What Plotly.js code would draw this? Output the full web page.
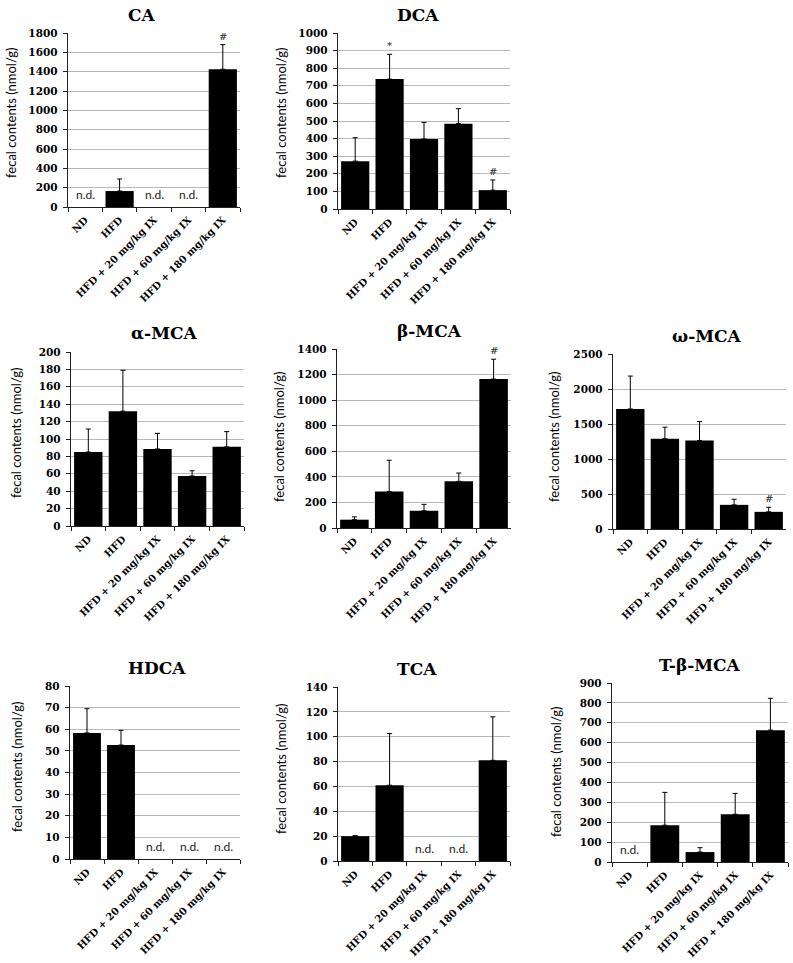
<!DOCTYPE html>
<html><head><meta charset="utf-8">
<script src="https://cdn.plot.ly/plotly-3.0.1.min.js"></script>
<style>html,body{margin:0;padding:0;background:#fff}#chart{width:793px;height:963px}</style>
</head><body><div id="chart"></div><script>
// ---- data ----
const groups = ['ND', 'HFD', 'HFD + 20 mg/kg IX', 'HFD + 60 mg/kg IX', 'HFD + 180 mg/kg IX'];
const compounds = ['CA', 'DCA', 'α-MCA', 'β-MCA', 'ω-MCA', 'HDCA', 'TCA', 'T-β-MCA'];

const caMean   = [null, 165, null, null, 1425];
const caErr    = [null, 125, null, null, 255];
const dcaMean  = [272, 738, 398, 485, 107];
const dcaErr   = [133, 141, 94, 85, 58];
const aMcaMean = [85, 132, 88.5, 57.5, 91];
const aMcaErr  = [26.5, 47, 18, 6, 17.5];
const bMcaMean = [65, 285, 135, 365, 1165];
const bMcaErr  = [22, 245, 50, 65, 155];
const wMcaMean = [1715, 1290, 1265, 345, 245];
const wMcaErr  = [470, 165, 270, 80, 65];
const hdcaMean = [58.3, 52.7, null, null, null];
const hdcaErr  = [11.2, 6.8, null, null, null];
const tcaMean  = [20, 61, null, null, 81];
const tcaErr   = [0.4, 41.5, null, null, 35];
const tbMcaMean = [null, 185, 50, 240, 663];
const tbMcaErr  = [null, 165, 22, 105, 160];

const caSig   = ['', '', '', '', '#'];
const dcaSig  = ['', '*', '', '', '#'];
const aMcaSig = ['', '', '', '', ''];
const bMcaSig = ['', '', '', '', '#'];
const wMcaSig = ['', '', '', '', '#'];
const hdcaSig = ['', '', '', '', ''];
const tcaSig  = ['', '', '', '', ''];
const tbMcaSig = ['', '', '', '', ''];

const yMaxTicks = [1800, 1000, 200, 1400, 2500, 80, 140, 900];
const yTickSteps = [200, 100, 20, 200, 500, 10, 20, 100];
const ndLabel = 'n.d.';
const yLabel = 'fecal contents (nmol/g)';

const means = [caMean, dcaMean, aMcaMean, bMcaMean, wMcaMean, hdcaMean, tcaMean, tbMcaMean];
const errs  = [caErr, dcaErr, aMcaErr, bMcaErr, wMcaErr, hdcaErr, tcaErr, tbMcaErr];
const sigs  = [caSig, dcaSig, aMcaSig, bMcaSig, wMcaSig, hdcaSig, tcaSig, tbMcaSig];

// ---- layout geometry (pixels) ----
const W = 793, H = 963;
const boxes = [ // x0, x1, yTop, yBottom
  [68, 240, 33, 207],
  [338, 510, 33, 209],
  [71, 244, 352, 526],
  [337, 511, 349, 528],
  [613, 786, 354, 529],
  [70, 240, 686, 859],
  [338, 510, 687, 861],
  [612, 788, 683, 862]
];
const titlePos = [[142, 15], [418, 15], [164, 333], [429, 331], [707, 336], [157, 668], [417, 669], [700, 665]];
const yTitlePos = [[11, 113], [281, 113], [16, 433], [279, 437], [554, 437], [17, 767], [281, 769], [556, 772]];

const serif = 'DejaVu Serif';
const sans = 'Lato';

const traces = [];
const layout = {
  width: W, height: H,
  margin: {l: 0, r: 0, t: 0, b: 0},
  paper_bgcolor: '#fff', plot_bgcolor: 'rgba(0,0,0,0)',
  showlegend: false,
  bargap: 0.18,
  annotations: []
};

compounds.forEach((name, i) => {
  const sfx = i === 0 ? '' : String(i + 1);
  const b = boxes[i];
  const xa = 'x' + sfx, ya = 'y' + sfx;
  traces.push({
    type: 'bar', x: groups, y: means[i], xaxis: xa, yaxis: ya,
    marker: {color: '#000', line: {width: 0}},
    error_y: {type: 'data', symmetric: false, array: errs[i],
      arrayminus: errs[i].map(() => 0), color: '#000', thickness: 1, width: 2.5},
    hoverinfo: 'skip'
  });
  layout['xaxis' + sfx] = {
    domain: [b[0] / W, b[1] / W], anchor: ya,
    type: 'category', range: [-0.5, 4.5], fixedrange: true,
    showline: true, linecolor: '#222', linewidth: 1.3,
    ticks: 'outside', tickson: 'boundaries', ticklen: 4, tickcolor: '#222',
    tickangle: -45, showgrid: false, zeroline: false, ticklabelstandoff: 2,
    tickfont: {family: serif, size: 10, color: '#000', weight: 'bold'}
  };
  layout['yaxis' + sfx] = {
    domain: [1 - b[3] / H, 1 - b[2] / H], anchor: xa,
    range: [0, yMaxTicks[i]], fixedrange: true,
    tickmode: 'linear', tick0: 0, dtick: yTickSteps[i],
    showline: true, linecolor: '#222', linewidth: 1.3,
    ticks: 'outside', ticklen: 4, tickcolor: '#222', ticklabelstandoff: 3,
    showgrid: true, gridcolor: '#b8b8b8', gridwidth: 1, zeroline: false,
    tickfont: {family: serif, size: 10.5, color: '#000', weight: 'bold'}
  };
  // title
  layout.annotations.push({
    xref: 'paper', yref: 'paper', x: titlePos[i][0] / W, y: 1 - titlePos[i][1] / H,
    xanchor: 'center', yanchor: 'middle', showarrow: false,
    text: '<b>' + name + '</b>', font: {family: serif, size: 17, color: '#000'}
  });
  // y title
  layout.annotations.push({
    xref: 'paper', yref: 'paper', x: yTitlePos[i][0] / W, y: 1 - yTitlePos[i][1] / H,
    xanchor: 'center', yanchor: 'middle', showarrow: false, textangle: -90,
    text: yLabel, font: {family: sans, size: 13, color: '#000'}
  });
  // n.d. and significance marks
  groups.forEach((g, j) => {
    if (means[i][j] === null) {
      layout.annotations.push({
        xref: xa, yref: ya, x: g, y: 0, xanchor: 'center', yanchor: 'bottom', yshift: 3,
        showarrow: false, text: ndLabel, font: {family: sans, size: 12, color: '#222'}
      });
    }
    if (sigs[i][j]) {
      layout.annotations.push({
        xref: xa, yref: ya, x: g, y: means[i][j] + errs[i][j], xanchor: 'center', yanchor: 'bottom', yshift: 1,
        showarrow: false, text: sigs[i][j], font: {family: serif, size: 10, color: '#222'}
      });
    }
  });
});

Plotly.newPlot('chart', traces, layout, {staticPlot: true, displayModeBar: false});
</script></body></html>
